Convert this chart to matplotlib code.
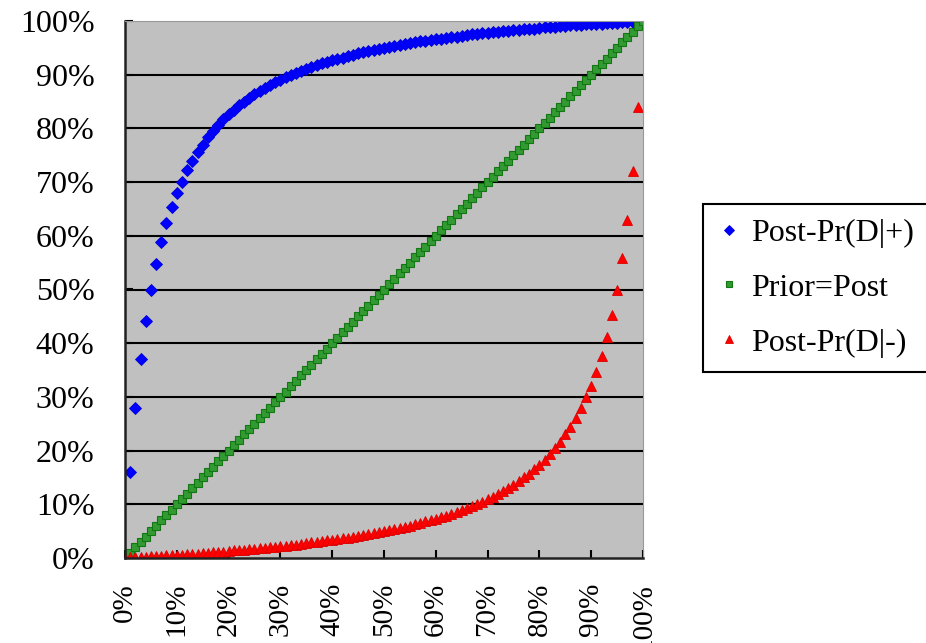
import matplotlib
matplotlib.use("Agg")
import matplotlib.pyplot as plt
from matplotlib.ticker import PercentFormatter, MultipleLocator

# prior probability, 0% .. 100% in 1% steps
prior = [
    0.00, 0.01, 0.02, 0.03, 0.04, 0.05, 0.06, 0.07, 0.08, 0.09,
    0.10, 0.11, 0.12, 0.13, 0.14, 0.15, 0.16, 0.17, 0.18, 0.19,
    0.20, 0.21, 0.22, 0.23, 0.24, 0.25, 0.26, 0.27, 0.28, 0.29,
    0.30, 0.31, 0.32, 0.33, 0.34, 0.35, 0.36, 0.37, 0.38, 0.39,
    0.40, 0.41, 0.42, 0.43, 0.44, 0.45, 0.46, 0.47, 0.48, 0.49,
    0.50, 0.51, 0.52, 0.53, 0.54, 0.55, 0.56, 0.57, 0.58, 0.59,
    0.60, 0.61, 0.62, 0.63, 0.64, 0.65, 0.66, 0.67, 0.68, 0.69,
    0.70, 0.71, 0.72, 0.73, 0.74, 0.75, 0.76, 0.77, 0.78, 0.79,
    0.80, 0.81, 0.82, 0.83, 0.84, 0.85, 0.86, 0.87, 0.88, 0.89,
    0.90, 0.91, 0.92, 0.93, 0.94, 0.95, 0.96, 0.97, 0.98, 0.99,
    1.00,
]

# Post-Pr(D|+)
post_pos = [
    0.000, 0.161, 0.279, 0.370, 0.442, 0.500, 0.548, 0.589, 0.623, 0.653,
    0.679, 0.701, 0.722, 0.740, 0.756, 0.770, 0.784, 0.796, 0.807, 0.817,
    0.826, 0.835, 0.843, 0.850, 0.857, 0.864, 0.870, 0.875, 0.881, 0.886,
    0.891, 0.895, 0.899, 0.903, 0.907, 0.911, 0.914, 0.918, 0.921, 0.924,
    0.927, 0.930, 0.932, 0.935, 0.937, 0.940, 0.942, 0.944, 0.946, 0.948,
    0.950, 0.952, 0.954, 0.955, 0.957, 0.959, 0.960, 0.962, 0.963, 0.965,
    0.966, 0.967, 0.969, 0.970, 0.971, 0.972, 0.974, 0.975, 0.976, 0.977,
    0.978, 0.979, 0.980, 0.981, 0.982, 0.983, 0.984, 0.985, 0.985, 0.986,
    0.987, 0.988, 0.989, 0.989, 0.990, 0.991, 0.992, 0.992, 0.993, 0.994,
    0.994, 0.995, 0.995, 0.996, 0.997, 0.997, 0.998, 0.998, 0.999, 0.999,
    1.000,
]

# Post-Pr(D|-)  (0% .. 99%)
post_neg = [
    0.000, 0.001, 0.001, 0.002, 0.002, 0.003, 0.003, 0.004, 0.005, 0.005,
    0.006, 0.006, 0.007, 0.008, 0.008, 0.009, 0.010, 0.011, 0.011, 0.012,
    0.013, 0.014, 0.015, 0.015, 0.016, 0.017, 0.018, 0.019, 0.020, 0.021,
    0.022, 0.023, 0.024, 0.025, 0.026, 0.028, 0.029, 0.030, 0.031, 0.033,
    0.034, 0.035, 0.037, 0.038, 0.040, 0.041, 0.043, 0.045, 0.046, 0.048,
    0.050, 0.052, 0.054, 0.056, 0.058, 0.060, 0.063, 0.065, 0.068, 0.070,
    0.073, 0.076, 0.079, 0.082, 0.086, 0.089, 0.093, 0.097, 0.101, 0.105,
    0.109, 0.114, 0.119, 0.125, 0.130, 0.136, 0.143, 0.150, 0.157, 0.165,
    0.174, 0.183, 0.193, 0.204, 0.216, 0.230, 0.244, 0.261, 0.279, 0.299,
    0.321, 0.347, 0.377, 0.412, 0.452, 0.500, 0.558, 0.630, 0.721, 0.839,
]

labels = ["Post-Pr(D|+)", "Prior=Post", "Post-Pr(D|-)"]

plt.rcParams['font.family'] = ['Liberation Serif', 'DejaVu Serif']

fig = plt.figure(figsize=(9.26, 6.43), dpi=100)
ax = fig.add_axes([125/926, 1-558/643, 518/926, 537/643])
ax.set_facecolor('#C0C0C0')

ax.plot(prior, post_pos, ls='none', marker='D', ms=6, mfc='#0000FF', mec='#0000DD', mew=0.6, label=labels[0])
ax.plot(prior, prior, ls='none', marker='s', ms=5.5, mfc='#339933', mec='#117711', mew=0.8, label=labels[1])
ax.plot(prior[:len(post_neg)], post_neg, ls='none', marker='^', ms=7.5, mfc='#FF0000', mec='#DD0000', mew=0.6, label=labels[2])

ax.set_xlim(0, 1)
ax.set_ylim(0, 1)
ax.xaxis.set_major_locator(MultipleLocator(0.1))
ax.yaxis.set_major_locator(MultipleLocator(0.1))
ax.xaxis.set_major_formatter(PercentFormatter(xmax=1, decimals=0))
ax.yaxis.set_major_formatter(PercentFormatter(xmax=1, decimals=0))

for yv in [0.1, 0.2, 0.3, 0.4, 0.5, 0.6, 0.7, 0.8, 0.9]:
    ax.axhline(yv, color='black', lw=1.5, zorder=1)

ax.tick_params(axis='both', direction='in', length=6, width=1.5, colors='black', labelsize=23)
ax.tick_params(axis='x', pad=18, labelrotation=90, labelsize=21)
ax.tick_params(axis='y', pad=22)
for lab in ax.get_xticklabels():
    lab.set_va('top')

ax.spines['left'].set_color('#222222')
ax.spines['bottom'].set_color('#222222')
ax.spines['left'].set_linewidth(1.8)
ax.spines['bottom'].set_linewidth(1.8)
ax.spines['top'].set_color('#999999')
ax.spines['right'].set_color('#999999')

leg = fig.legend(loc='upper left', bbox_to_anchor=(703/926, 1-204/643), fontsize=23,
                 frameon=True, fancybox=False, edgecolor='black', framealpha=1,
                 handlelength=0.75, handletextpad=0.3, labelspacing=0.8,
                 borderpad=0.45, borderaxespad=0, markerscale=0.8)
leg.get_frame().set_linewidth(1.5)

fig.savefig('out.png', dpi=100)
